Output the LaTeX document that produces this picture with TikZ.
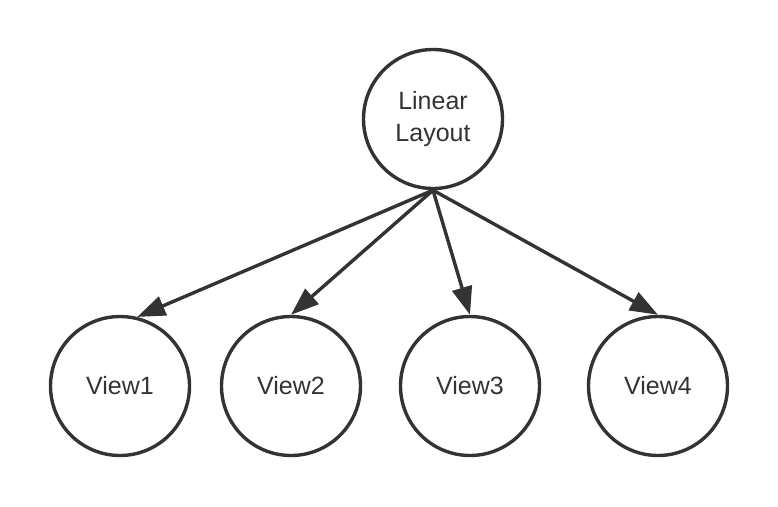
\documentclass[tikz,border=0pt]{standalone}
\usepackage{fontspec}
\setmainfont{Liberation Sans}
\usepackage{tikz}
\usetikzlibrary{arrows.meta}
\definecolor{edge}{HTML}{333333}
\definecolor{label}{HTML}{333333}

\begin{document}
\begin{tikzpicture}[
    x=1pt, y=-1pt,
    font=\fontsize{25}{32}\selectfont,
    circ/.style={circle, draw=edge, line width=3.4pt, minimum size=139pt, inner sep=0pt, align=center, text=label},
    arr/.style={-{Triangle[length=28pt,width=20pt]}, line width=3.4pt, draw=edge, fill=edge},
  ]
  \useasboundingbox (0,0) rectangle (778,506);
  \node[circ] (root) at (433,119) {Linear\\Layout};
  \node[circ] (v1) at (120,386) {View1};
  \node[circ] (v2) at (291,386) {View2};
  \node[circ] (v3) at (470,386) {View3};
  \node[circ] (v4) at (658,386) {View4};
  \foreach \n/\a in {v1/76, v2/90, v3/90, v4/90}{
    \draw[arr] (root.south) -- (\n.\a);
  }
\end{tikzpicture}
\end{document}
